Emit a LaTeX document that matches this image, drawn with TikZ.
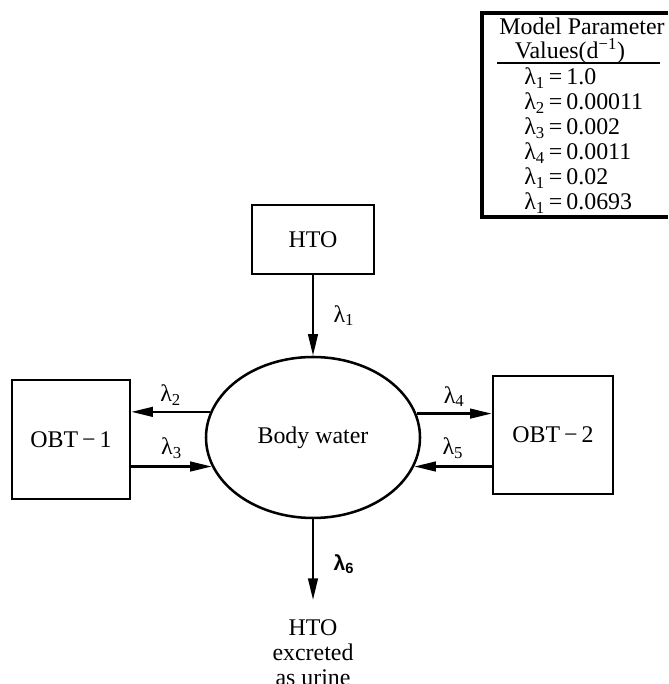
\documentclass[tikz,border=0pt]{standalone}
\usepackage{fontspec}
\setmainfont{Liberation Serif}
\setsansfont{Liberation Sans}
\usepackage{tikz}
\usetikzlibrary{arrows.meta, positioning, calc, shapes.geometric}

\begin{document}
\begin{tikzpicture}[
    font=\fontsize{17}{18}\selectfont,
    >={Triangle[length=5.4mm,width=2.4mm]},
    poolbox/.style={
      draw, line width=1.8pt,
      align=center, inner sep=2pt,
    },
    bodyellipse/.style={
      draw, ellipse, line width=1.8pt,
      minimum width=5.35cm, minimum height=4.025cm,
      inner sep=0pt,
    },
    flowarrow/.style={->, line width=1.7pt},
    ratelabel/.style={inner sep=1pt},
    sinktext/.style={align=center, anchor=north, inner sep=0pt},
    tableframe/.style={line width=2.4pt},
    tablerule/.style={line width=1.6pt},
    tablehead/.style={inner sep=0pt},
    tablerow/.style={anchor=west, inner sep=0pt},
  ]

  \useasboundingbox (0,0) rectangle (16.7,17.1);

  % -----------------------------------------------------------
  % Parameter table (top right)
  % -----------------------------------------------------------
  \draw[tableframe] (16.7,16.775) -| (12.05,11.675) -- (16.7,11.675);
  \node[tablehead] (hdrone) at (14.55,16.43) {Model Parameter};
  \node[tablehead] (hdrtwo) at (14.25,15.83) {Values(d\textsuperscript{−1})};
  \draw[tablerule] (12.425,15.53) -- (16.5,15.53);

  \foreach \k/\val [count=\i] in {1/1.0, 2/0.00011, 3/0.002,
                                  4/0.0011, 1/0.02, 1/0.0693}
    \node[tablerow] (row\i) at (13.1, {15.15-0.625*(\i-1)})
          {λ\textsubscript{\k}\,=\,\val};

  % -----------------------------------------------------------
  % Compartments
  % -----------------------------------------------------------
  \node[poolbox, minimum width=3.05cm, minimum height=1.725cm]
                     (hto)    at (7.825,11.11)  {HTO};
  \node[bodyellipse] (body)   at (7.825,6.1625) {Body water};
  \node[poolbox, minimum width=2.95cm, minimum height=2.975cm]
                     (obtone) at (1.775,6.1125) {OBT\,−\,1};
  \node[poolbox, minimum width=3.0cm, minimum height=2.95cm]
                     (obttwo) at (13.825,6.225) {OBT\,−\,2};
  \node[sinktext]    (urine)  at (7.825,1.625)  {HTO\\excreted\\as urine};

  % -----------------------------------------------------------
  % Transfer arrows
  % -----------------------------------------------------------
  \draw[flowarrow] (hto) -- (body)
        node[ratelabel, midway, right=0.45cm] (lamone) {λ\textsubscript{1}};

  \draw[flowarrow] (body.166) -- (body.166 -| obtone.east)
        node[ratelabel, midway, above=3pt] (lamtwo) {λ\textsubscript{2}};
  \draw[flowarrow] (body.196 -| obtone.east) -- (body.196)
        node[ratelabel, midway, above=4pt] (lamthree) {λ\textsubscript{3}};

  \draw[flowarrow] (body.13) -- (body.13 -| obttwo.west)
        node[ratelabel, midway, above=3pt] (lamfour) {λ\textsubscript{4}};
  \draw[flowarrow] (body.344 -| obttwo.west) -- (body.344)
        node[ratelabel, midway, above=4pt] (lamfive) {λ\textsubscript{5}};

  % excretion: stops short of the text block
  \draw[flowarrow, shorten >=0.475cm] (body) -- (urine)
        node[ratelabel, pos=0.45, right=0.45cm,
             font=\fontsize{15}{16}\selectfont\sffamily\bfseries]
        (lamsix) {λ\textsubscript{6}};

\end{tikzpicture}
\end{document}
